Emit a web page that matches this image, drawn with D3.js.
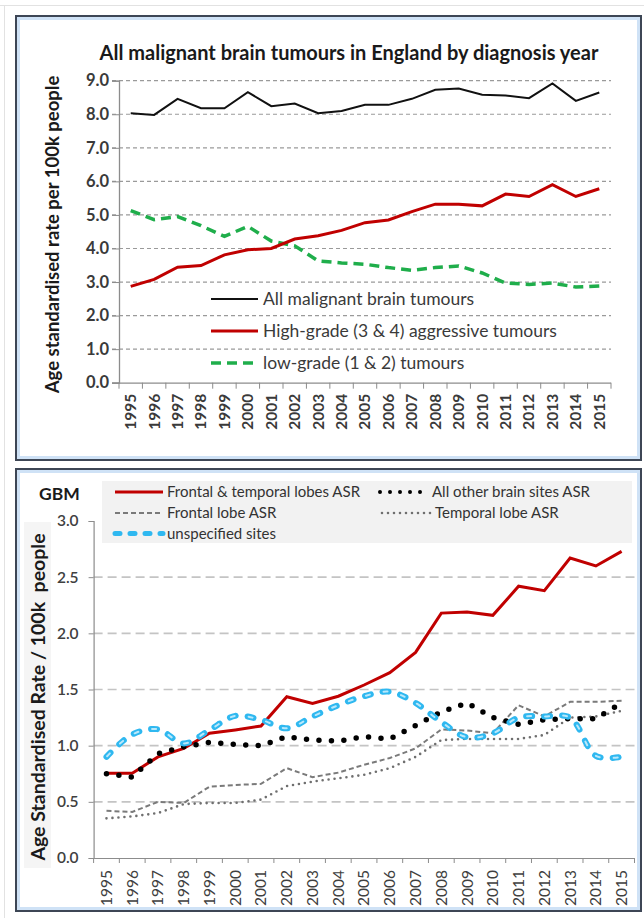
<!DOCTYPE html>
<html>
<head>
<meta charset="utf-8">
<script src="https://cdn.jsdelivr.net/npm/d3@7"></script>
<style>
  body { margin: 0; background: #fff; }
  svg text { font-family: Lato, "Open Sans", sans-serif; }
</style>
</head>
<body>
<div id="chart"></div>
<script>
// years shared by both charts
var years = ["1995","1996","1997","1998","1999","2000","2001","2002","2003","2004","2005",
             "2006","2007","2008","2009","2010","2011","2012","2013","2014","2015"];

// top chart - all malignant brain tumours
var allMalignant = [8.03,7.98,8.46,8.18,8.18,8.66,8.24,8.32,8.03,8.1,8.28,8.28,8.46,8.73,8.77,8.58,8.56,8.48,8.92,8.4,8.65];
var highGrade = [2.87,3.08,3.44,3.49,3.81,3.96,4.0,4.28,4.38,4.54,4.77,4.85,5.1,5.32,5.32,5.27,5.62,5.55,5.9,5.55,5.78];
var lowGrade = [5.13,4.86,4.95,4.68,4.36,4.66,4.22,4.08,3.63,3.57,3.53,3.43,3.35,3.43,3.48,3.27,2.97,2.93,2.97,2.85,2.88];
var topTicks = [0,1,2,3,4,5,6,7,8,9];

// bottom chart - GBM
var frontalTemporal = [0.755,0.755,0.9,0.975,1.11,1.14,1.175,1.435,1.375,1.44,1.54,1.65,1.83,2.18,2.19,2.16,2.42,2.38,2.67,2.6,2.73];
var otherSites = [0.75,0.72,0.93,0.99,1.03,1.01,1.0,1.08,1.05,1.04,1.08,1.06,1.18,1.3,1.38,1.25,1.19,1.23,1.24,1.24,1.38];
var frontalLobe = [0.42,0.41,0.5,0.49,0.635,0.65,0.66,0.8,0.72,0.76,0.83,0.89,0.975,1.145,1.135,1.11,1.36,1.26,1.39,1.39,1.4];
var temporalLobe = [0.353,0.37,0.4,0.48,0.49,0.49,0.52,0.64,0.68,0.71,0.74,0.8,0.9,1.05,1.06,1.06,1.06,1.095,1.25,1.26,1.31];
var unspecified = [0.9,1.1,1.146,1.02,1.14,1.265,1.23,1.155,1.26,1.36,1.44,1.48,1.38,1.21,1.075,1.11,1.25,1.26,1.25,0.91,0.9];
var bottomTicks = [0,0.5,1,1.5,2,2.5,3];

var svgWidth = 644;
var svgHeight = 918;

var svg = d3.select("#chart")
  .append("svg")
  .attr("width", svgWidth)
  .attr("height", svgHeight);

// page border
svg.append("line").attr("x1", 0).attr("x2", svgWidth).attr("y1", 5.5).attr("y2", 5.5)
  .attr("stroke", "#e2e2e2");
svg.append("line").attr("x1", 4.5).attr("x2", 4.5).attr("y1", 5).attr("y2", svgHeight)
  .attr("stroke", "#e2e2e2");

function panel(x, y, w, h) {
  svg.append("rect").attr("x", x).attr("y", y).attr("width", w).attr("height", h)
    .attr("fill", "#fff").attr("stroke", "#3d4655").attr("stroke-width", 2);
  svg.append("rect").attr("x", x + 2.5).attr("y", y + 2.5).attr("width", w - 5).attr("height", h - 5)
    .attr("fill", "none").attr("stroke", "#cfe2f6").attr("stroke-width", 3);
}
panel(16, 16, 625, 444);
panel(16, 469, 625, 442);

// ---------------- top chart ----------------
var topM = { left: 119, right: 611, top: 80.7, bottom: 382.7 };

var xTop = d3.scaleBand().domain(years).range([topM.left, topM.right]);
var yTop = d3.scaleLinear().domain([0, 9]).range([topM.bottom, topM.top]);

var g1 = svg.append("g");

g1.append("text")
  .attr("x", 349).attr("y", 60)
  .attr("text-anchor", "middle")
  .attr("font-size", 20).attr("font-weight", "bold").attr("fill", "#1a1a1a")
  .text("All malignant brain tumours in England by diagnosis year");

// gridlines
g1.selectAll(".grid")
  .data(topTicks.filter(d => d > 0))
  .enter().append("line")
  .attr("x1", 112).attr("x2", topM.right)
  .attr("y1", d => yTop(d)).attr("y2", d => yTop(d))
  .attr("stroke", "#9a9a9a").attr("stroke-width", 1.2)
  .attr("stroke-dasharray", "4,3");

// y axis
var yAxisTop = g1.append("g")
  .attr("transform", `translate(${topM.left},0)`)
  .call(d3.axisLeft(yTop).tickValues(topTicks).tickFormat(d3.format(".1f")).tickSize(7));
yAxisTop.select(".domain").attr("stroke", "#8c8c8c").attr("stroke-width", 1.3);
yAxisTop.selectAll(".tick line").attr("stroke", "#8c8c8c");
yAxisTop.selectAll(".tick text")
  .attr("x", -10)
  .attr("font-family", "Lato").attr("font-size", 16.5).attr("font-weight", "bold").attr("fill", "#3a3a3a");

// x axis
var xAxisTop = g1.append("g")
  .attr("transform", `translate(0,${topM.bottom})`)
  .call(d3.axisBottom(xTop).tickSize(0).tickSizeOuter(0));
xAxisTop.select(".domain").attr("stroke", "#8c8c8c").attr("stroke-width", 1.3)
  .attr("d", `M${112},0.5H${topM.right}`);
xAxisTop.selectAll(".tick text")
  .attr("transform", "rotate(-90)")
  .attr("text-anchor", "end")
  .attr("x", -11).attr("y", 0).attr("dy", "0.35em")
  .attr("font-family", "Lato").attr("font-size", 15.5).attr("font-weight", "bold").attr("fill", "#3a3a3a");
g1.selectAll(".xtick")
  .data(d3.range(years.length + 1))
  .enter().append("line")
  .attr("x1", i => topM.left + i * xTop.step()).attr("x2", i => topM.left + i * xTop.step())
  .attr("y1", topM.bottom).attr("y2", topM.bottom + 6)
  .attr("stroke", "#8c8c8c");

g1.append("text")
  .attr("transform", `translate(59,${(77 + 392) / 2}) rotate(-90)`)
  .attr("text-anchor", "middle")
  .attr("font-size", 18.5).attr("font-weight", "bold").attr("fill", "#1a1a1a")
  .text("Age standardised rate per 100k people");

var lineTop = d3.line()
  .x((d, i) => xTop(years[i]) + xTop.bandwidth() / 2)
  .y(d => yTop(d));

g1.append("path").datum(lowGrade).attr("d", lineTop)
  .attr("fill", "none").attr("stroke", "#1fae4b").attr("stroke-width", 3.5)
  .attr("stroke-dasharray", "10,6");
g1.append("path").datum(highGrade).attr("d", lineTop)
  .attr("fill", "none").attr("stroke", "#c00000").attr("stroke-width", 3);
g1.append("path").datum(allMalignant).attr("d", lineTop)
  .attr("fill", "none").attr("stroke", "#111").attr("stroke-width", 2);

// top legend
var topLegend = [
  { name: "All malignant brain tumours", color: "#111", width: 2, dash: null },
  { name: "High-grade (3 & 4) aggressive tumours", color: "#c00000", width: 3, dash: null },
  { name: "low-grade (1 & 2) tumours", color: "#1fae4b", width: 3.5, dash: "10,6" }
];
var legendRowY = [299, 331, 363];
var lg1 = g1.selectAll(".leg").data(topLegend).enter().append("g")
  .attr("transform", (d, i) => `translate(211,${legendRowY[i]})`);
lg1.append("line").attr("x1", 0).attr("x2", 47)
  .attr("stroke", d => d.color).attr("stroke-width", d => d.width)
  .attr("stroke-dasharray", d => d.dash);
lg1.append("text").attr("x", 52).attr("dy", "0.35em")
  .attr("font-size", 17.5).attr("fill", "#3a3a3a")
  .text(d => d.name);

// ---------------- bottom chart ----------------
var bot = { left: 93.6, right: 634.5, top: 521, bottom: 858 };

var xBot = d3.scaleBand().domain(years).range([bot.left, bot.right]);
var yBot = d3.scaleLinear().domain([0, 3]).range([bot.bottom, bot.top]);

var g2 = svg.append("g");

// y title background
g2.append("rect").attr("x", 24).attr("y", 522).attr("width", 27).attr("height", 346)
  .attr("fill", "#f5f5f5");

g2.selectAll(".grid")
  .data(bottomTicks.filter(d => d > 0 && d < 3))
  .enter().append("line")
  .attr("x1", bot.left).attr("x2", bot.right)
  .attr("y1", d => yBot(d)).attr("y2", d => yBot(d))
  .attr("stroke", "#c4c4c4").attr("stroke-width", 1.6)
  .attr("stroke-dasharray", "9,5");

var yAxisBot = g2.append("g")
  .attr("transform", `translate(${bot.left},0)`)
  .call(d3.axisLeft(yBot).tickValues(bottomTicks).tickFormat(d3.format(".1f")).tickSize(5));
yAxisBot.select(".domain").attr("stroke", "#8c8c8c").attr("stroke-width", 1.2);
yAxisBot.selectAll(".tick line").attr("stroke", "#8c8c8c");
yAxisBot.selectAll(".tick text")
  .attr("x", -15)
  .attr("font-family", "Lato").attr("font-size", 15.5).attr("font-weight", 600).attr("fill", "#404040");

var xAxisBot = g2.append("g")
  .attr("transform", `translate(0,${bot.bottom})`)
  .call(d3.axisBottom(xBot).tickSize(0).tickSizeOuter(0));
xAxisBot.select(".domain").attr("stroke", "#8c8c8c").attr("stroke-width", 1.2);
xAxisBot.selectAll(".tick text")
  .attr("transform", "rotate(-90)")
  .attr("text-anchor", "end")
  .attr("x", -12).attr("y", 0).attr("dy", "0.35em")
  .attr("font-family", "Lato").attr("font-size", 15.5).attr("fill", "#404040");
g2.selectAll(".xtick")
  .data(d3.range(years.length + 1))
  .enter().append("line")
  .attr("x1", i => bot.left + i * xBot.step()).attr("x2", i => bot.left + i * xBot.step())
  .attr("y1", bot.bottom).attr("y2", bot.bottom + 5)
  .attr("stroke", "#8c8c8c");

g2.append("text")
  .attr("transform", `translate(45,${(527 + 867) / 2}) rotate(-90)`)
  .attr("text-anchor", "middle")
  .attr("font-size", 19.5).attr("font-weight", "bold").attr("fill", "#1a1a1a")
  .attr("xml:space", "preserve")
  .text("Age Standardised Rate / 100k  people");

var lineBot = d3.line()
  .x((d, i) => xBot(years[i]) + xBot.bandwidth() / 2)
  .y(d => yBot(d));
var smoothBot = d3.line()
  .x((d, i) => xBot(years[i]) + xBot.bandwidth() / 2)
  .y(d => yBot(d))
  .curve(d3.curveCatmullRom);

var botSeries = [
  { name: "Frontal & temporal lobes ASR", values: frontalTemporal, color: "#c00000", width: 3, dash: null, cap: "butt" },
  { name: "All other brain sites ASR", values: otherSites, color: "#000", width: 5.5, dash: "0,12.5", cap: "round" },
  { name: "Frontal lobe ASR", values: frontalLobe, color: "#7a7a7a", width: 2, dash: "5,3", cap: "butt" },
  { name: "Temporal lobe ASR", values: temporalLobe, color: "#6f6f6f", width: 2.6, dash: "0,6", cap: "round" },
  { name: "unspecified sites", values: unspecified, color: "#2fb8f0", width: 6, dash: "6,12", cap: "round", smooth: true }
];

function drawSeries(sel, s, gen) {
  sel.append("path").datum(s.values).attr("d", gen)
    .attr("fill", "none").attr("stroke", s.color).attr("stroke-width", s.width)
    .attr("stroke-linecap", s.cap).attr("stroke-dasharray", s.dash);
}
drawSeries(g2, botSeries[2], lineBot);
drawSeries(g2, botSeries[3], lineBot);
drawSeries(g2, botSeries[0], lineBot);
drawSeries(g2, botSeries[1], lineBot);
drawSeries(g2, botSeries[4], smoothBot);
// lighter core of the blue dashes
g2.append("path").datum(unspecified).attr("d", smoothBot)
  .attr("fill", "none").attr("stroke", "#b9e8fb").attr("stroke-width", 2)
  .attr("stroke-linecap", "round").attr("stroke-dasharray", "4,14").attr("stroke-dashoffset", -1);

// bottom legend
g2.append("rect").attr("x", 102).attr("y", 481).attr("width", 530).attr("height", 62)
  .attr("fill", "#f2f2f2");
g2.append("text").attr("x", 39).attr("y", 500)
  .attr("font-size", 17.5).attr("font-weight", "bold").attr("fill", "#1a1a1a")
  .text("GBM");

var legendPos = [
  { x: 115, y: 492, tx: 167 },
  { x: 380, y: 492, tx: 432 },
  { x: 115, y: 513, tx: 167 },
  { x: 382, y: 513, tx: 435 },
  { x: 115, y: 533.5, tx: 167 }
];
botSeries.forEach(function(s, i) {
  var p = legendPos[i];
  var lw = p.tx - p.x - 4;
  g2.append("line").attr("x1", p.x).attr("x2", p.x + lw).attr("y1", p.y).attr("y2", p.y)
    .attr("stroke", s.color).attr("stroke-width", s.smooth ? 5 : (s.width > 5 ? 4 : s.width))
    .attr("stroke-linecap", s.cap).attr("stroke-dasharray", s.smooth ? "5,10" : (s.width > 5 ? "0,10" : s.dash));
  g2.append("text").attr("x", p.tx).attr("y", p.y).attr("dy", "0.35em")
    .attr("font-size", 15).attr("fill", "#333")
    .text(s.name);
});
</script>
</body>
</html>
